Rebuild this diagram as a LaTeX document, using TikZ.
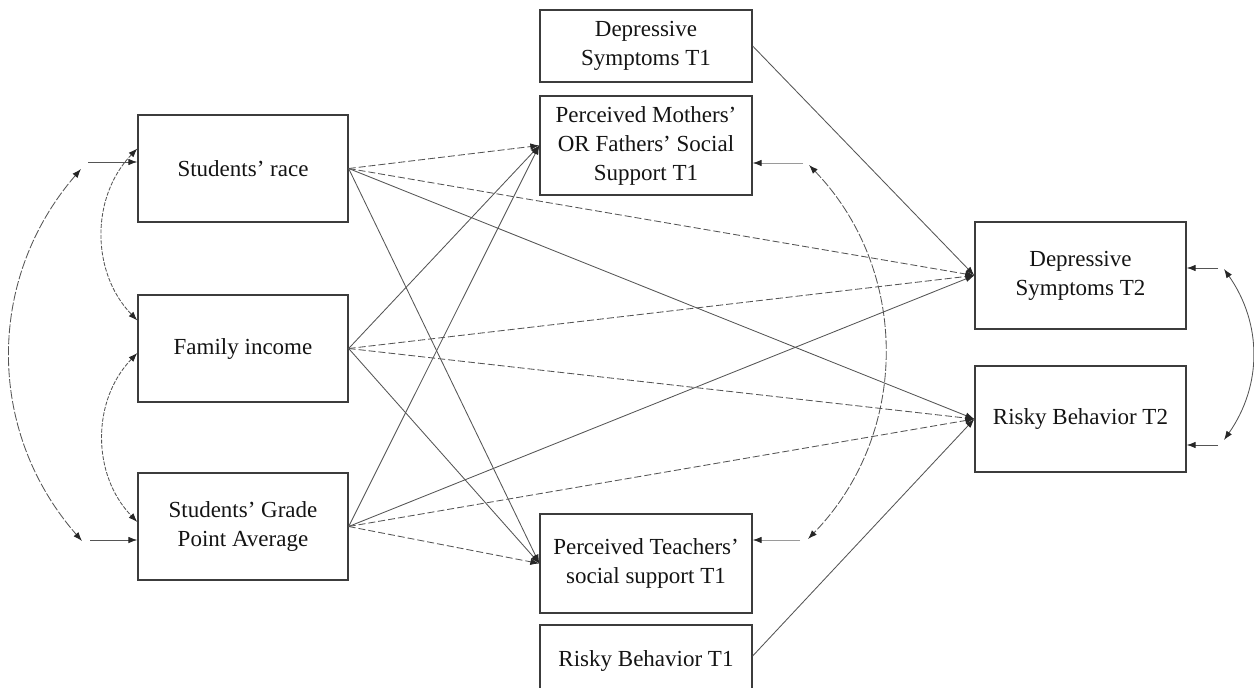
\documentclass[tikz,border=0pt]{standalone}
\usepackage{fontspec}
\setmainfont{Liberation Serif}
\usetikzlibrary{arrows.meta,calc}
\definecolor{boxgray}{HTML}{3C3C3C}
\definecolor{linegray}{HTML}{555555}
\definecolor{softgray}{HTML}{9A9A9A}
\begin{document}
\begin{tikzpicture}[x=1pt,y=-1pt,
  var/.style={draw=boxgray, line width=1.3pt, inner sep=0pt, align=center,
    font=\fontsize{23}{29}\selectfont, text=black!92},
  tip/.tip={Latex[length=9pt,width=6.5pt,color=black!85]},
  reg/.style={draw=linegray, line width=0.85pt, -tip},
  dreg/.style={reg, dash pattern=on 7pt off 3pt},
  hline/.style={draw=linegray, line width=0.85pt, -tip},
  lhline/.style={draw=softgray, line width=0.85pt, -tip},
  cov/.style={draw=linegray, line width=0.85pt, tip-tip},
  fcov/.style={cov, dash pattern=on 4pt off 1.5pt},
  lcov/.style={cov, dash pattern=on 9pt off 2pt}]
\useasboundingbox (0,0) rectangle (1254,688);

% exogenous covariates
\node[var, minimum width=210pt, minimum height=107pt] (race) at (243,168.5) {Students’ race};
\node[var, minimum width=210pt, minimum height=107pt] (income) at (243,348.5) {Family income};
\node[var, minimum width=210pt, minimum height=107pt] (gpa) at (243,526.5) {Students’ Grade\\Point Average};

% T1 measures
\node[var, minimum width=212pt, minimum height=72pt] (dep1) at (646,46) {Depressive\\Symptoms T1};
\node[var, minimum width=212pt, minimum height=99pt] (moth) at (646,145.5) {Perceived Mothers’\\OR Fathers’ Social\\Support T1};
\node[var, minimum width=212pt, minimum height=99pt] (teach) at (646,563.5) {Perceived Teachers’\\social support T1};
\node[var, minimum width=212pt, minimum height=72pt] (risk1) at (646,661) {Risky Behavior T1};

% T2 outcomes
\node[var, minimum width=211pt, minimum height=107pt] (dep2) at (1080.5,275.5) {Depressive\\Symptoms T2};
\node[var, minimum width=211pt, minimum height=106pt] (risk2) at (1080.5,419) {Risky Behavior T2};

% paths from students' race
\draw[dreg] (race.east) -- (moth.west);
\draw[dreg] (race.east) -- (dep2.west);
\draw[reg]  (race.east) -- (risk2.west);
\draw[reg]  (race.east) -- (teach.west);

% paths from family income
\draw[reg]  (income.east) -- (moth.west);
\draw[dreg] (income.east) -- (dep2.west);
\draw[dreg] (income.east) -- (risk2.west);
\draw[reg]  (income.east) -- (teach.west);

% paths from grade point average
\draw[reg]  (gpa.east) -- (moth.west);
\draw[reg]  (gpa.east) -- (dep2.west);
\draw[dreg] (gpa.east) -- (risk2.west);
\draw[dreg] (gpa.east) -- (teach.west);

% stability paths
\draw[reg] (dep1.east) -- (dep2.west);
\draw[reg] ([yshift=5pt]risk1.east) -- (risk2.west);

% covariances among the exogenous variables
\draw[fcov] ([yshift=20pt]race.west) to[bend right=44] ([yshift=28pt]income.west);
\draw[fcov] ([yshift=-4.5pt]income.west) to[bend right=44] ([yshift=4.5pt]gpa.west);
\coordinate (hA) at (88,162);
\coordinate (hB) at (90,540);
\coordinate (bA) at (81,169);
\coordinate (bB) at (82,541);
\draw[hline] (hA) -- (hA -| race.west);
\draw[hline] (hB) -- (hB -| gpa.west);
\draw[lcov] (bA) to[bend right=41] (bB);

% covariance between perceived support measures
\coordinate (mhA) at (803,163);
\coordinate (mhB) at (800,540);
\coordinate (mA) at (809,165);
\coordinate (mB) at (808,539);
\draw[lhline] (mhA) -- (mhA -| moth.east);
\draw[lhline] (mhB) -- (mhB -| teach.east);
\draw[lcov] (mA) to[bend left=44] (mB);

% residual covariance of the outcomes
\coordinate (rhA) at (1218,268);
\coordinate (rhB) at (1218,445);
\coordinate (rA) at (1224,269);
\coordinate (rB) at (1224,440);
\draw[hline] (rhA) -- (rhA -| dep2.east);
\draw[hline] (rhB) -- (rhB -| risk2.east);
\draw[cov] (rA) to[bend left=35] (rB);
\end{tikzpicture}
\end{document}
